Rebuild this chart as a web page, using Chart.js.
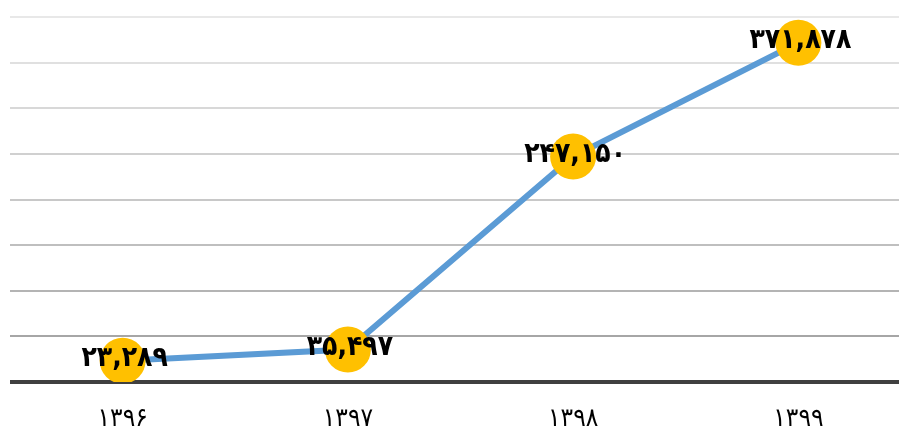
<!DOCTYPE html>
<html>
<head>
<meta charset="utf-8">
<script src="https://cdn.jsdelivr.net/npm/chart.js@4/dist/chart.umd.min.js"></script>
<style>
  html, body { margin: 0; padding: 0; background: #fff; overflow: hidden; }
  canvas { display: block; }
</style>
</head>
<body>
<canvas id="myChart" width="911" height="428"></canvas>
<script>
// سال ها و مقادیر
const years = ["1396", "1397", "1398", "1399"];
const values = [23289, 35497, 247150, 371878];
const gridColors = ["#404040", "#a6a6a6", "#b4b4b4", "#bfbfbf", "#c8c8c8", "#d0d0d0", "#d8d8d8", "#e0e0e0", "#e8e8e8"];

const faDigits = "۰۱۲۳۴۵۶۷۸۹";
function toFa(s) {
  return String(s).replace(/[0-9]/g, (d) => faDigits[d]);
}
function fmt(n) {
  return toFa(n.toString().replace(/\B(?=(\d{3})+(?!\d))/g, ","));
}

// برچسب روی نقطه ها
const valueLabels = {
  id: "valueLabels",
  afterDatasetsDraw(chart) {
    const ctx = chart.ctx;
    const meta = chart.getDatasetMeta(0);
    ctx.save();
    ctx.font = "bold 28px 'DejaVu Sans Condensed', 'DejaVu Sans'";
    ctx.fillStyle = "#000";
    ctx.textAlign = "center";
    ctx.textBaseline = "middle";
    meta.data.forEach((pt, i) => {
      ctx.fillText(fmt(values[i]), pt.x + 2, pt.y - 2);
    });
    ctx.restore();
  },
};

const dataSet = {
  labels: years.map(toFa),
  datasets: [
    {
      data: values,
      borderColor: "#5b9bd5",
      borderWidth: 6,
      backgroundColor: "#ffc000",
      pointBackgroundColor: "#ffc000",
      pointBorderWidth: 0,
      pointRadius: 23,
      pointHoverRadius: 23,
      tension: 0,
    },
  ],
};

const config = {
  type: "line",
  data: dataSet,
  options: {
    responsive: false,
    animation: false,
    layout: { autoPadding: false, padding: { left: 10, top: 17, right: 0, bottom: 0 } },
    plugins: {
      legend: { display: false },
      tooltip: { enabled: false },
    },
    scales: {
      x: {
        offset: true,
        grid: { display: false, drawTicks: false },
        border: { display: false },
        afterFit: (s) => {
          s.height = 46;
          s.paddingLeft = 0;
          s.paddingRight = 0;
        },
        ticks: {
          padding: 22,
          color: "#000",
          font: { family: "'DejaVu Sans Condensed', 'DejaVu Sans'", size: 26 },
        },
      },
      y: {
        min: 0,
        max: 400000,
        afterFit: (s) => { s.width = 0; },
        ticks: { stepSize: 50000, display: false },
        border: { display: false },
        grid: {
          drawTicks: false,
          color: (c) => gridColors[c.index] || "#ddd",
          lineWidth: (c) => (c.index === 0 ? 4 : 2),
        },
      },
    },
  },
  plugins: [valueLabels],
};

const myChart = new Chart(document.querySelector("#myChart"), config);
</script>
</body>
</html>
